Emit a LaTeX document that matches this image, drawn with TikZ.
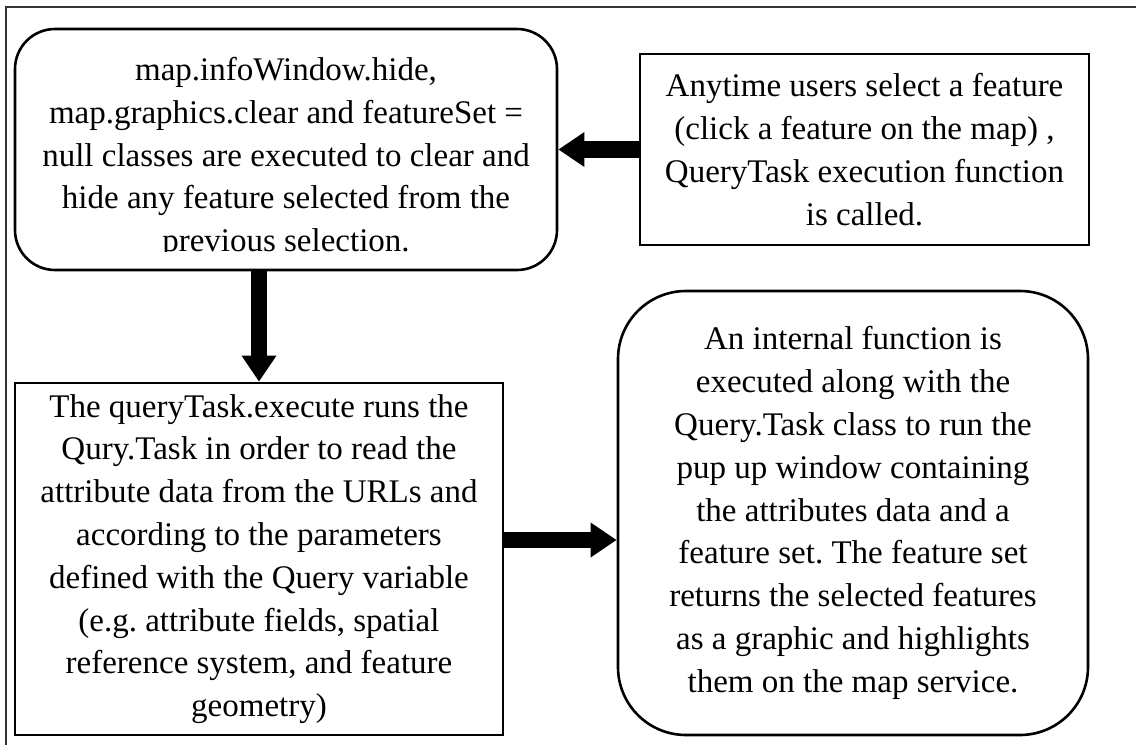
\documentclass[tikz,border=0pt]{standalone}
\usepackage{fontspec}
\setmainfont{Liberation Serif}
\usetikzlibrary{arrows.meta}
\frenchspacing

\begin{document}
\begin{tikzpicture}
[x=0.5pt,y=-0.5pt,
  frameLine/.style={line width=1pt,color=black!80},%
  boxText/.style={align=center,inner sep=0pt,font=\fontsize{16.5}{21.4}\selectfont},%
  plainBox/.style={boxText,draw,line width=1.3pt},%
  roundBox/.style={plainBox,rounded corners=#1},%
  blockArrow/.style={-{Triangle[length=13pt,width=16.5pt]},line width=8.2pt}]
\useasboundingbox (0,0) rectangle (1136,745);
%% frame of the table cell
\draw[frameLine] (1136,7) -- (6,7) -- (6,745);
%% boxes
\node (clear) at (286,149.5) [roundBox=20pt,minimum width=271pt,minimum height=120.5pt] {};
\begin{scope}
  \clip (clear.north west) rectangle (clear.east |- 0,251);
  \node (clearText) at (286,158) [boxText]
    {map.infoWindow.hide,\\ map.graphics.clear and featureSet =\\ null classes are executed to clear and\\ hide any feature selected from the\\ previous selection.};
\end{scope}
\node (select) at (864.5,149.5) [plainBox,minimum width=224.5pt,minimum height=95.5pt]
  {Anytime users select a feature\\ (click a feature on the map) ,\\ QueryTask execution function\\ is called.};
\node (query) at (259,559) [plainBox,minimum width=244pt,minimum height=176pt]
  {The queryTask.execute runs the\\ Qury.Task in order to read the\\ attribute data from the URLs and\\ according to the parameters\\ defined with the Query variable\\ (e.g. attribute fields, spatial\\ reference system, and feature\\ geometry)};
\node (popup) at (853,513) [roundBox=34pt,minimum width=235pt,minimum height=222pt]
  {An internal function is\\ executed along with the\\ Query.Task class to run the\\ pup up window containing\\ the attributes data and a\\ feature set. The feature set\\ returns the selected features\\ as a graphic and highlights\\ them on the map service.};
\coordinate (cellMid) at (0,540);
%% block arrows
\path
\foreach \startnode/\endnode in {select.west/clear.east,
  clear.south -| query.north/query.north,
  query.east |- cellMid/popup.west |- cellMid}
{
  (\startnode) edge[blockArrow] (\endnode)
};
\end{tikzpicture}
\end{document}
